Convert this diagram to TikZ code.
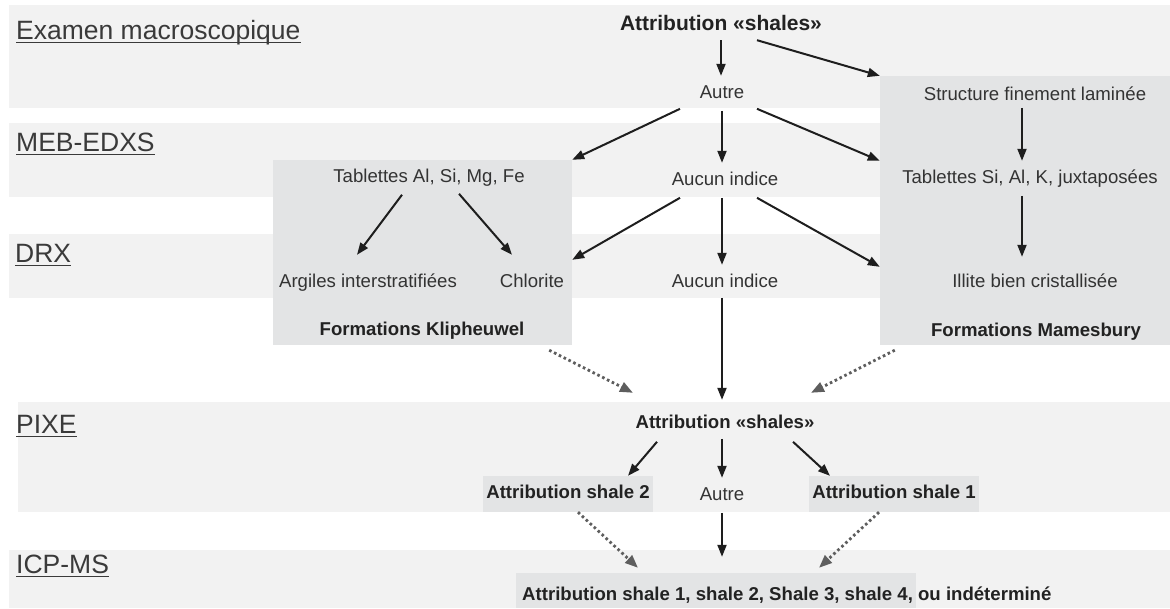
\documentclass[tikz,border=0pt]{standalone}
\usepackage{fontspec}
\setmainfont{Liberation Sans}
\usetikzlibrary{arrows.meta}
\definecolor{bandc}{HTML}{F2F2F2}
\definecolor{boxc}{HTML}{E3E4E5}
\definecolor{txtc}{HTML}{333333}
\definecolor{btxtc}{HTML}{222222}
\definecolor{arrc}{HTML}{1E1E1E}
\definecolor{dotc}{HTML}{5E5E5E}
\definecolor{labc}{HTML}{3A3A3A}
\begin{document}
\begin{tikzpicture}[x=1pt,y=-1pt,
  txt/.style={font=\fontsize{18.6pt}{22pt}\selectfont, text=txtc, text height=14pt, text depth=4.6pt, inner xsep=6pt, inner ysep=8pt, anchor=base},
  btxt/.style={txt, font=\fontsize{18.6pt}{22pt}\selectfont\bfseries, text=btxtc},
  lab/.style={font=\fontsize{26.5pt}{30pt}\selectfont, text=labc, anchor=base west, inner sep=0pt},
  uline/.style={draw=labc, line width=1.8pt},
  arr/.style={draw=arrc, line width=2pt, -{Triangle[length=12pt,width=9pt]}},
  darr/.style={draw=dotc, line width=2.8pt, dash pattern=on 2.6pt off 2.8pt, -{Triangle[length=13pt,width=10pt]}},
  bandfill/.style={fill=bandc},
  gbox/.style={fill=boxc, draw=none, inner sep=0pt}]
\useasboundingbox (0,0) rectangle (1170,608);
% bands
\fill[bandfill] (9,5) rectangle (1170,108);
\fill[bandfill] (9,123) rectangle (1170,197);
\fill[bandfill] (9,234) rectangle (1170,298);
\fill[bandfill] (18,402) rectangle (1170,512);
\fill[bandfill] (9,550) rectangle (1170,608);
% grey boxes
\node[gbox, minimum width=299pt, minimum height=185pt] (klip) at (422.5,252.5) {};
\node[gbox, minimum width=290pt, minimum height=269pt] (mames) at (1025,210.5) {};
\node[gbox, minimum width=400pt, minimum height=35pt] (finalbox) at (716,590.5) {};
% row labels
\node[lab] (l1) at (16,39) {Examen macroscopique};
\node[lab] (l2) at (16,151) {MEB-EDXS};
\node[lab] (l3) at (15,262) {DRX};
\node[lab] (l4) at (16,433) {PIXE};
\node[lab] (l5) at (16,573) {ICP-MS};
\foreach \l in {l1,l2,l3,l4,l5}{
  \draw[uline] ([yshift=-3.5pt]\l.base west) -- ([yshift=-3.5pt]\l.base east);
}
% texts
\node[btxt, font=\fontsize{21pt}{25pt}\selectfont\bfseries, text height=16pt, text depth=5pt, inner ysep=5pt] (top) at (721,30) {Attribution «shales»};
\node[txt] (autre1) at (722,98) {Autre};
\node[txt] (sfl) at (1035,100) {Structure finement laminée};
\node[txt] (tsi) at (1030,183) {Tablettes Si, Al, K, juxtaposées};
\node[txt] (aucun1) at (725,185) {Aucun indice};
\node[txt] (tal) at (429,182) {Tablettes Al, Si, Mg, Fe};
\node[txt] (arg) at (368,287) {Argiles interstratifiées};
\node[txt] (chl) at (532,287) {Chlorite};
\node[txt] (aucun2) at (725,287) {Aucun indice};
\node[txt] (ill) at (1035,287) {Illite bien cristallisée};
\node[btxt] (fk) at (422,335) {Formations Klipheuwel};
\node[btxt] (fm) at (1036,336) {Formations Mamesbury};
\node[btxt] (pixe) at (725,428) {Attribution «shales»};
\node[btxt, fill=boxc, anchor=center, minimum width=170pt, minimum height=36pt, inner xsep=2pt] (s2) at (568,494) {Attribution shale 2};
\node[txt] (autre2) at (722,500) {Autre};
\node[btxt, fill=boxc, anchor=center, minimum width=170pt, minimum height=36pt, inner xsep=2pt] (s1) at (894,494) {Attribution shale 1};
\node[btxt, anchor=base west, inner xsep=0pt] (final) at (522,600) {Attribution shale 1, shale 2, Shale 3, shale 4, ou indéterminé};
% arrows - macroscopique
\draw[arr] (top.south) -- (top.south |- autre1.north);
\draw[arr] ([xshift=36pt]top.south) -- (mames.north west);
% from Autre
\draw[arr] ([xshift=-42pt,yshift=2pt]autre1.south) -- (klip.north east);
\draw[arr] (autre1.south) -- (autre1.south |- aucun1.north);
\draw[arr] ([xshift=35pt,yshift=2pt]autre1.south) -- (mames.west |- tsi.north);
% Mamesbury chain
\draw[arr] ([xshift=-13pt,yshift=5pt]sfl.south) -- ([xshift=-13pt]sfl.south |- tsi.north);
\draw[arr] ([xshift=-8pt]tsi.south) -- ([xshift=-8pt,yshift=8pt]tsi.south |- ill.north);
% Klipheuwel chain
\draw[arr] ([xshift=-27pt]tal.south) -- ([xshift=-11pt,yshift=10pt]arg.north);
\draw[arr] ([xshift=30pt,yshift=1pt]tal.south) -- ([xshift=-20pt,yshift=10pt]chl.north);
% from Aucun indice (MEB)
\draw[arr] ([xshift=-45pt]aucun1.south) -- ([yshift=5pt]klip.east |- chl.north);
\draw[arr] ([xshift=-3pt]aucun1.south) -- ([xshift=-3pt]aucun1.south |- aucun2.north);
\draw[arr] ([xshift=32pt]aucun1.south) -- ([yshift=-2pt]mames.west |- ill.north);
% to PIXE
\draw[arr] ([xshift=-3pt,yshift=2pt]aucun2.south) -- ([xshift=-3pt,yshift=6pt]aucun2.south |- pixe.north);
\draw[darr] ([xshift=-23pt,yshift=-5pt]klip.south east) -- ([xshift=-92pt,yshift=13pt]pixe.north);
\draw[darr] ([xshift=15pt,yshift=-5pt]mames.south west) -- ([xshift=86pt,yshift=13pt]pixe.north);
% PIXE level
\draw[arr] ([xshift=-68pt,yshift=-1pt]pixe.south) -- ([xshift=60pt]s2.north);
\draw[arr] ([xshift=-3pt,yshift=2pt]pixe.south) -- ([xshift=-3pt]pixe.south |- autre2.north);
\draw[arr] ([xshift=68pt,yshift=-1pt]pixe.south) -- ([xshift=-64pt]s1.north);
% to ICP-MS
\draw[darr] ([xshift=10pt]s2.south) -- ([xshift=-78pt,yshift=5pt]finalbox.north);
\draw[arr] (autre2.south) -- ([yshift=16pt]autre2.south |- finalbox.north);
\draw[darr] ([xshift=-15pt]s1.south) -- ([xshift=103pt,yshift=5pt]finalbox.north);
\end{tikzpicture}
\end{document}
